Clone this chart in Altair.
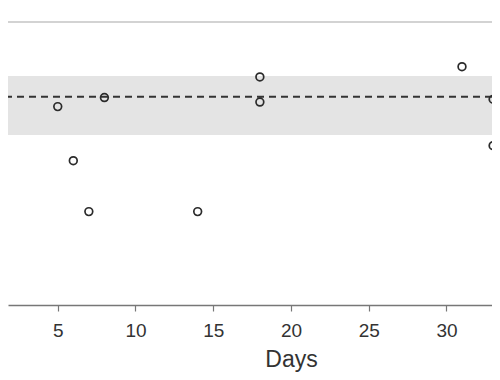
import altair as alt
import pandas as pd

# Data (y in relative units, 0-100 plot scale)
days = [5, 6, 7, 8, 14, 18, 18, 31, 33, 33]
values = [70.1, 51.0, 33.0, 73.3, 33.0, 80.6, 71.7, 84.2, 72.7, 56.3]
mean_value = [73.6]
band_low = [60.1]
band_high = [80.9]
x_ticks = [5, 10, 15, 20, 25, 30]

W = 484
H = 283

pts = pd.DataFrame({"Days": days, "Value": values})
band = pd.DataFrame({"lo": band_low, "hi": band_high})
mean = pd.DataFrame({"m": mean_value})

xscale = alt.Scale(domain=[1.80, 32.93], nice=False, zero=False)
yscale = alt.Scale(domain=[0, 100], nice=False, zero=False)

band_layer = alt.Chart(band).mark_rect(color="#e4e4e4").encode(
    x=alt.value(0), x2=alt.value(W),
    y=alt.Y("lo:Q", scale=yscale, axis=None),
    y2="hi:Q",
)

top_line = alt.Chart(mean).mark_rule(color="#c4c4c4", strokeWidth=1.5).encode(
    x=alt.value(0), x2=alt.value(W), y=alt.value(0)
)

mean_layer = alt.Chart(mean).mark_rule(
    color="#333333", strokeWidth=2, strokeDash=[7, 5]
).encode(y=alt.Y("m:Q", scale=yscale, axis=None))

points = alt.Chart(pts).mark_point(
    shape="circle", filled=False, size=60, stroke="#2b2b2b", strokeWidth=1.7,
    opacity=1, clip=False
).encode(
    x=alt.X("Days:Q", scale=xscale, axis=alt.Axis(
        values=x_ticks, title="Days", grid=False,
        domainColor="#777777", domainWidth=1.5,
        tickColor="#777777", tickWidth=1.2, tickSize=6,
        labelFont="Liberation Sans", labelFontSize=19, labelColor="#333333",
        labelPadding=10,
        titleFont="Liberation Sans", titleFontSize=23, titleFontWeight="normal",
        titleColor="#333333", titleX=283, titleY=61, titleAlign="center",
        titleBaseline="alphabetic",
    )),
    y=alt.Y("Value:Q", scale=yscale, axis=None),
)

chart = alt.layer(band_layer, top_line, mean_layer, points).properties(
    width=W, height=H,
    background="white",
    padding={"left": 0, "right": 0, "top": 14, "bottom": 67},
    autosize=alt.AutoSizeParams(type="none"),
).configure_view(stroke=None, strokeWidth=0)

chart.save("out.html", embed_options={"renderer": "svg", "actions": False})
